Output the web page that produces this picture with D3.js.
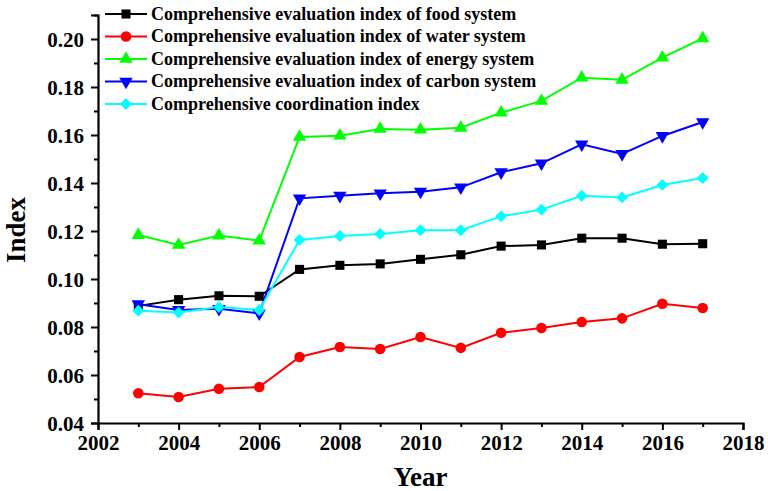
<!DOCTYPE html>
<html>
<head>
<meta charset="utf-8">
<script src="https://d3js.org/d3.v7.min.js"></script>
<style>
  html, body { margin: 0; padding: 0; background: #fff; }
  svg { display: block; }
  text { font-family: "Liberation Serif", "Times New Roman", serif; font-weight: bold; fill: #000; }
</style>
</head>
<body>
<svg id="chart" width="768" height="491"></svg>
<script>
// Years on the x axis
const years = [2003, 2004, 2005, 2006, 2007, 2008, 2009, 2010, 2011, 2012, 2013, 2014, 2015, 2016, 2017];

// Index values per subsystem
const foodIndex   = [0.0888, 0.0914, 0.0930, 0.0928, 0.1040, 0.1057, 0.1063, 0.1082, 0.1101, 0.1137, 0.1142, 0.1170, 0.1170, 0.1145, 0.1147];
const waterIndex  = [0.0524, 0.0508, 0.0543, 0.0550, 0.0675, 0.0717, 0.0708, 0.0758, 0.0713, 0.0776, 0.0796, 0.0821, 0.0836, 0.0897, 0.0879];
const energyIndex = [0.1183, 0.1142, 0.1181, 0.1160, 0.1592, 0.1597, 0.1625, 0.1622, 0.1630, 0.1693, 0.1742, 0.1839, 0.1830, 0.1922, 0.2003];
const carbonIndex = [0.0895, 0.0871, 0.0876, 0.0857, 0.1336, 0.1347, 0.1357, 0.1364, 0.1382, 0.1445, 0.1482, 0.1561, 0.1521, 0.1596, 0.1654];
const coordIndex  = [0.0868, 0.0860, 0.0883, 0.0871, 0.1163, 0.1179, 0.1188, 0.1203, 0.1203, 0.1261, 0.1289, 0.1347, 0.1340, 0.1392, 0.1421];

const seriesNames = [
  "Comprehensive evaluation index of food system",
  "Comprehensive evaluation index of water system",
  "Comprehensive evaluation index of energy system",
  "Comprehensive evaluation index of carbon system",
  "Comprehensive coordination index"
];

// Axis ticks
const xTicks = [2002, 2004, 2006, 2008, 2010, 2012, 2014, 2016, 2018];
const xMinorTicks = [2003, 2005, 2007, 2009, 2011, 2013, 2015, 2017];
const yTicks = [0.04, 0.06, 0.08, 0.10, 0.12, 0.14, 0.16, 0.18, 0.20];
const yMinorTicks = [0.05, 0.07, 0.09, 0.11, 0.13, 0.15, 0.17, 0.19, 0.21];

// Marker styles: symbol type, area and rotation
const series = [
  { name: seriesNames[0], values: foodIndex,   color: "#000000", symbol: d3.symbolSquare,   size: 66, rot: 0 },
  { name: seriesNames[1], values: waterIndex,  color: "#ff0000", symbol: d3.symbolCircle,   size: 70, rot: 0 },
  { name: seriesNames[2], values: energyIndex, color: "#00ff00", symbol: d3.symbolTriangle, size: 62, rot: 0 },
  { name: seriesNames[3], values: carbonIndex, color: "#0000ff", symbol: d3.symbolTriangle, size: 62, rot: 180 },
  { name: seriesNames[4], values: coordIndex,  color: "#00ffff", symbol: d3.symbolSquare,   size: 56, rot: 45 }
];

const svg = d3.select("#chart");
const plotLeft = 98, plotRight = 743, plotTop = 15, plotBottom = 423;

const x = d3.scaleLinear().domain([2002, 2018]).range([plotLeft, plotRight]);
const y = d3.scaleLinear().domain([0.04, 0.21]).range([plotBottom, plotTop]);

// Axes with major and minor ticks
const xAxis = svg.append("g").attr("transform", `translate(0,${plotBottom})`)
  .call(d3.axisBottom(x).tickValues(xTicks).tickFormat(d3.format("d")).tickSizeOuter(0).tickSize(7).tickPadding(5));
const xMinor = svg.append("g").attr("transform", `translate(0,${plotBottom})`)
  .call(d3.axisBottom(x).tickValues(xMinorTicks).tickFormat("").tickSizeOuter(0).tickSize(4));
const yAxis = svg.append("g").attr("transform", `translate(${plotLeft},0)`)
  .call(d3.axisLeft(y).tickValues(yTicks).tickFormat(d3.format(".2f")).tickSizeOuter(0).tickSize(7).tickPadding(7));
const yMinor = svg.append("g").attr("transform", `translate(${plotLeft},0)`)
  .call(d3.axisLeft(y).tickValues(yMinorTicks).tickFormat("").tickSizeOuter(0).tickSize(4));

[xAxis, xMinor, yAxis, yMinor].forEach(g => {
  g.selectAll("path").attr("stroke", "#000").attr("stroke-width", 2.2);
  g.selectAll("line").attr("stroke", "#000").attr("stroke-width", 2);
});
xMinor.select("path").remove();
yMinor.select("path").remove();
xAxis.selectAll("text").attr("font-size", 21).attr("font-family", "Liberation Serif").attr("font-weight", "bold");
yAxis.selectAll("text").attr("font-size", 21).attr("font-family", "Liberation Serif").attr("font-weight", "bold").attr("dy", "0.34em");

// Axis titles
svg.append("text").attr("x", (plotLeft + plotRight) / 2).attr("y", 486)
  .attr("text-anchor", "middle").attr("font-size", 27).text("Year");
svg.append("text").attr("transform", `translate(25,230) rotate(-90)`)
  .attr("text-anchor", "middle").attr("font-size", 27).text("Index");

// Lines and markers
const line = d3.line().x((d, i) => x(years[i])).y(d => y(d));
series.forEach(s => {
  svg.append("path").datum(s.values)
    .attr("d", line).attr("fill", "none").attr("stroke", s.color).attr("stroke-width", 2);
});
series.forEach(s => {
  const sym = d3.symbol().type(s.symbol).size(s.size * 1.25);
  svg.append("g").selectAll("path").data(s.values).join("path")
    .attr("transform", (d, i) => `translate(${x(years[i])},${y(d)}) rotate(${s.rot})`)
    .attr("d", sym).attr("fill", s.color);
});

// Legend
const legend = svg.append("g");
series.forEach((s, i) => {
  const ly = 14 + i * 22.5;
  legend.append("line").attr("x1", 105).attr("x2", 147).attr("y1", ly).attr("y2", ly)
    .attr("stroke", s.color).attr("stroke-width", 2);
  legend.append("path").attr("transform", `translate(126,${ly}) rotate(${s.rot})`)
    .attr("d", d3.symbol().type(s.symbol).size(s.size * 1.25)).attr("fill", s.color);
  legend.append("text").attr("x", 151).attr("y", ly).attr("dy", "0.33em")
    .attr("font-size", 18).text(s.name);
});
</script>
</body>
</html>
